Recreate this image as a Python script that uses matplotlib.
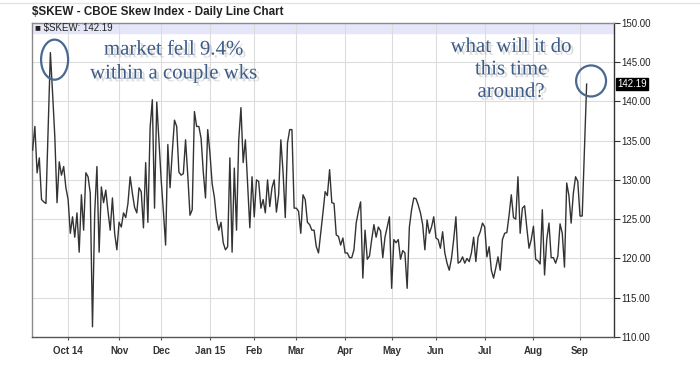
import pandas as pd
import matplotlib.pyplot as plt
import matplotlib.transforms as mtransforms
import matplotlib.patheffects as pe
from matplotlib.patches import Ellipse

# Données : clôtures journalières du $SKEW, 9 sept 2014 -> 4 sept 2015
start, end = '2014-09-09', '2015-09-04'
holidays = ['2014-11-27', '2014-12-25', '2015-01-01', '2015-01-19',
            '2015-02-16', '2015-04-03', '2015-05-25', '2015-07-03']

sep14 = [133.8, 136.8, 130.9, 132.8, 127.5, 127.2, 127.0, 136.5, 146.2, 141.0,
         135.5, 127.1, 132.3, 130.6, 131.7, 129.0]
oct14 = [127.5, 123.2, 125.3, 122.7, 125.8, 120.8, 128.1, 123.6, 130.9, 130.4,
         128.3, 111.3, 125.8, 131.7, 120.8, 129.1, 127.1, 128.7, 126.0, 123.6,
         127.7, 123.2, 121.1]
nov14 = [124.6, 124.0, 125.8, 125.2, 127.0, 130.4, 128.3, 126.5, 125.8, 129.0,
         128.5, 123.9, 132.2, 124.6, 136.6, 140.2, 126.4, 139.9, 135.0]
dec14 = [130.0, 126.0, 121.7, 134.5, 129.0, 133.5, 137.6, 136.8, 131.0, 130.6,
         130.8, 135.1, 130.6, 125.5, 126.2, 138.7, 136.8, 136.8, 135.3, 131.0,
         127.7, 136.4]
jan15 = [133.4, 129.5, 127.8, 125.0, 123.6, 124.6, 122.0, 121.1, 121.5, 132.8,
         120.8, 131.5, 123.6, 135.1, 139.2, 132.2, 135.1, 129.6, 123.9, 130.4]
feb15 = [125.3, 130.0, 129.8, 126.4, 127.5, 125.8, 130.0, 126.6, 129.0, 130.0,
         125.9, 128.1, 135.1, 131.0, 125.2, 134.7, 136.4, 136.4, 126.4]
mar15 = [126.4, 126.0, 123.2, 128.1, 127.5, 124.6, 124.3, 123.6, 123.6, 121.5,
         120.7, 123.2, 125.8, 128.5, 128.0, 131.3, 127.1, 127.0, 123.0, 122.8,
         121.7, 122.6]
apr15 = [120.7, 120.7, 120.1, 120.1, 121.1, 124.5, 126.0, 127.2, 117.5, 123.6,
         119.9, 120.3, 122.4, 124.3, 122.7, 124.0, 123.5, 120.1, 122.7, 124.0,
         125.3]
may15 = [116.2, 122.4, 122.0, 122.4, 119.9, 121.0, 120.7, 116.2, 124.0, 126.2,
         127.7, 127.6, 126.8, 125.8, 124.3, 121.1, 124.9, 123.2, 124.0, 125.3]
jun15 = [122.6, 122.4, 121.3, 123.4, 120.7, 119.4, 118.5, 120.0, 122.4, 125.3,
         119.4, 119.6, 120.2, 119.4, 120.0, 119.6, 120.7, 122.7, 119.6, 122.7,
         123.4, 124.5]
jul15 = [124.0, 120.2, 121.5, 118.5, 117.5, 118.8, 120.2, 118.5, 122.4, 123.2,
         123.3, 125.5, 128.1, 125.2, 125.0, 130.4, 123.2, 126.4, 126.7, 123.9,
         121.3, 122.4]
aug15 = [124.1, 119.9, 119.7, 119.3, 126.2, 117.9, 122.4, 124.5, 120.1, 120.1,
         119.4, 120.3, 124.4, 123.2, 118.9, 129.6, 128.0, 124.5, 128.3, 130.4,
         129.8]
sep15 = [125.4, 125.4, 133.8, 142.19]

month_labels = ['Oct 14', 'Nov', 'Dec', 'Jan 15', 'Feb', 'Mar', 'Apr', 'May',
                'Jun', 'Jul', 'Aug', 'Sep']
y_ticks = [110, 115, 120, 125, 130, 135, 140, 145, 150]

values = (sep14 + oct14 + nov14 + dec14 + jan15 + feb15 + mar15 + apr15 +
          may15 + jun15 + jul15 + aug15 + sep15)
dates = pd.bdate_range(start, end, freq='C', holidays=holidays)
df = pd.DataFrame({'date': dates, 'skew': values})
df['i'] = range(len(df))

# premier jour de bourse de chaque mois -> position des graduations
first = df.groupby(df['date'].dt.to_period('M'))['i'].min().iloc[1:].tolist()

fig = plt.figure(figsize=(7, 3.68), dpi=100)
ax = fig.add_axes([0.0457, 0.0842, 0.8313, 0.854])

ax.plot(df['i'], df['skew'], color='#333333', lw=1.0, zorder=3)

ax.set_xlim(-0.3, 262.3)
ax.set_ylim(110, 150)
ax.axhspan(148.65, 150, color='#e6e6fb', zorder=1)

ax.set_xticks(first)
ax.set_xticklabels(month_labels, fontsize=7, fontweight='bold', color='#333333',
                   family='Liberation Sans')
ax.set_yticks(y_ticks)
ax.set_yticklabels([f'{v:.2f}' for v in y_ticks], fontsize=7, color='#222222',
                   family='Liberation Sans')
ax.yaxis.tick_right()
ax.tick_params(axis='y', length=4, width=0.8, color='#333333', pad=1)
ax.tick_params(axis='x', length=2.5, width=0.8, color='#555555', pad=4)
ax.grid(True, color='#dcdcdc', lw=0.8, zorder=0)
for side in ['left', 'top']:
    ax.spines[side].set_color('#8a8a8a')
ax.spines['right'].set_color('#333333')
ax.spines['bottom'].set_color('#555555')
for s in ax.spines.values():
    s.set_linewidth(1.0)

# légende en haut + étiquette de la dernière valeur
last = df['skew'].iloc[-1]
ax.text(0.006, 149.3, f'\u25a0 $SKEW: {last:.2f}', transform=mtransforms.blended_transform_factory(ax.transAxes, ax.transData),
        fontsize=7, va='center', ha='left', color='#222222', family='Liberation Sans', zorder=4)
ax.text(1.006, last, f'{last:.2f}', transform=mtransforms.blended_transform_factory(ax.transAxes, ax.transData),
        fontsize=7, va='center', ha='left', color='white', family='Liberation Sans',
        bbox=dict(boxstyle='square,pad=0.12', fc='black', ec='black'), clip_on=False)

fig.text(0.0457, 0.968, '$SKEW - CBOE Skew Index - Daily Line Chart', fontsize=8.4,
         fontweight='bold', color='#222222', va='center', family='Liberation Sans')
fig.add_artist(plt.Line2D([0, 1], [0.992, 0.992], color='#e4e4e4', lw=1))

# annotations
blue = '#3d5c87'
shadow = [pe.withSimplePatchShadow(offset=(2, -2), shadow_rgbFace='#a8a8a8', alpha=0.4)]
ax.text(63.8, 145.0, 'market fell 9.4%\nwithin a couple wks', fontsize=15, color=blue,
        family='Liberation Serif', ha='center', va='center', linespacing=1.35,
        path_effects=shadow, zorder=5)
ax.text(216, 144.0, 'what will it do\nthis time\naround?', fontsize=15, color=blue,
        family='Liberation Serif', ha='center', va='center', linespacing=1.25,
        path_effects=shadow, zorder=5)

i_pk = int(df['skew'].idxmax())
ax.add_patch(Ellipse((i_pk + 1.9, df['skew'].max() - 0.9), 12.2, 5.1, fill=False,
                     ec='#4a6890', lw=1.6, zorder=5))
ax.add_patch(Ellipse((df['i'].iloc[-1] + 2.0, last + 0.4), 13.5, 3.95, fill=False,
                     ec='#4a6890', lw=1.6, zorder=5, clip_on=False))

fig.savefig('out.png', dpi=100, facecolor='white')
